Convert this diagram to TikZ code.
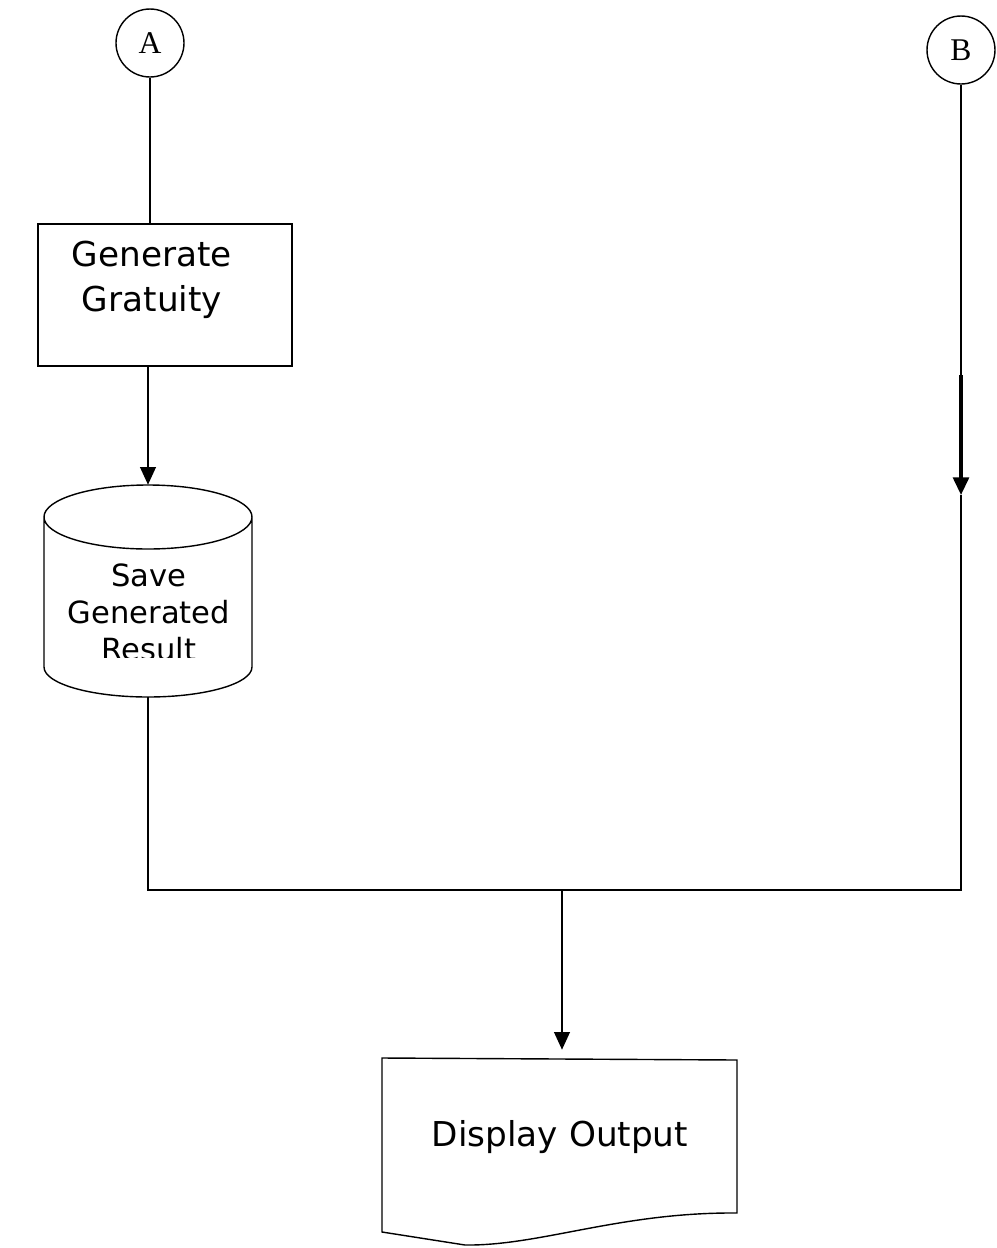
\documentclass[tikz,border=0pt]{standalone}
\usepackage{fontspec}
\setmainfont{DejaVu Sans}
\newfontfamily\letterfont{Liberation Serif}
\usetikzlibrary{positioning,arrows.meta}

\tikzset{
  connector/.style={circle, draw, line width=0.8pt, inner sep=0pt,
    minimum size=1.36cm, font=\letterfont\fontsize{18}{20}\selectfont},
  process/.style={rectangle, draw, line width=0.8pt,
    minimum width=5.08cm, minimum height=2.84cm},
  flow/.style={line width=0.8pt},
  arr/.style={line width=0.8pt, -{Triangle[width=9pt,length=10pt]}},
}

\begin{document}
\begin{tikzpicture}[x=0.02cm, y=-0.02cm]
    \useasboundingbox (0,0) rectangle (997,1248);

    % connectors at the top
    \node[connector] (a) at (150,43) {A};
    \node[connector] (b) at (961,50) {B};

    \node[process] (gen) at (165,295) {};
    \node[align=center, font=\fontsize{19.5}{25.5}\selectfont] (gentext) at (152,280)
      {Generate\\Gratuity};

    % cylinder for the saved result
    \node[minimum width=4.16cm, minimum height=4.24cm, inner sep=0pt] (save) at (148,591) {};
    \draw[flow] (44,517) arc[start angle=180, end angle=360, x radius=104, y radius=32]
                        arc[start angle=0, end angle=180, x radius=104, y radius=32]
                -- (44,667) arc[start angle=180, end angle=0, x radius=104, y radius=30]
                -- (252,517);
    \begin{scope}
      \clip (44,550) rectangle (252,657);
      \node[align=center, font=\fontsize{17.4}{21}\selectfont] (savetext) at (149,612)
        {Save\\Generated\\Result};
    \end{scope}

    % document shape
    \node[minimum width=7.1cm, minimum height=3.48cm, inner sep=0pt,
      font=\fontsize{19.5}{23}\selectfont] (out) at (560,1137) {Display Output};
    \draw[flow] (382,1232) -- (382,1058) -- (737,1060) -- (737,1213)
       .. controls (620,1212) and (540,1246) .. (465,1245) -- cycle;

    \coordinate (bthick) at (961,375);
    \coordinate (btip) at (961,495);
    \coordinate (bend) at (961,890);
    \coordinate (lend) at (148,890);
    \coordinate (join) at (562,890);

    \draw[flow] (a) -- (gen.north -| a);
    \draw[arr] (gen.south -| save) -- (save.north);
    \draw[flow] (b) -- (bthick);
    \draw[arr, line width=1.8pt] (bthick) -- (btip);
    \draw[flow] (btip) -- (bend) -- (lend) -- (save.south);
    \draw[arr] (join) -- (out.north -| join);
\end{tikzpicture}
\end{document}
